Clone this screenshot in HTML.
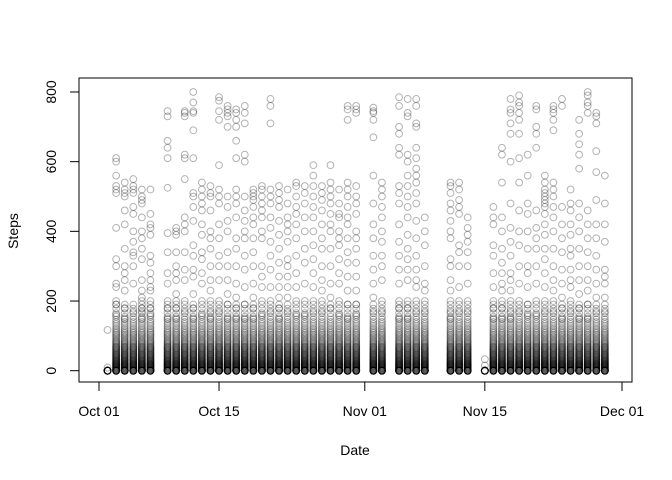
<!DOCTYPE html>
<html><head><meta charset="utf-8"><style>
html,body{margin:0;padding:0;background:#fff;}
svg{display:block;font-family:"Liberation Sans",Arial,sans-serif;}
</style></head><body>
<svg id="chart" width="672" height="480" viewBox="0 0 672 480" xmlns="http://www.w3.org/2000/svg">
<rect x="79" y="78" width="553" height="304" fill="none" stroke="#000" stroke-width="1"/>
<g id="points"></g>
<g id="axes"></g>
<text x="355" y="455" font-size="14" text-anchor="middle">Date</text>
<text x="0" y="0" font-size="14" text-anchor="middle" transform="translate(18,231) rotate(-90)">Steps</text>
</svg>
<script>
// day index = days since Oct 01
const dayIndex = [1,2,3,4,5,6,8,9,10,11,12,13,14,15,16,17,18,19,20,21,22,23,24,25,26,27,28,29,30,32,33,35,36,37,38,41,42,43,45,46,47,48,49,50,51,52,53,54,55,56,57,58,59];
const highValues = [
[117,9],
[610,600,560,530,520,510,410,320,300,250,240,200,190,160],
[540,520,510,500,460,420,350,300,280,260,230,180,150],
[550,530,520,510,470,450,400,370,340,330,300,250,170],
[520,500,490,480,440,400,380,350,320,260,230,210,200,180,170,150],
[520,450,420,410,390,330,310,280,260,240,230,200,180,160],
[745,730,660,640,610,525,395,340,280,250,200,180,150],
[410,400,390,340,300,280,260,220,200,180,150],
[745,740,730,620,610,550,440,420,400,340,290,260,200,170],
[800,770,745,740,690,610,510,500,470,430,360,330,290,270,220,180,150],
[540,520,500,480,460,420,390,340,320,280,250,200,160],
[530,510,500,460,400,380,350,300,260,230,200,170,150],
[785,775,745,720,590,520,500,480,420,380,330,300,260,200,170],
[760,750,740,730,700,500,470,430,400,340,300,260,220,190,150],
[750,740,720,700,660,610,520,500,480,440,380,350,300,250,210,180,150],
[760,740,710,620,600,500,460,430,400,380,330,290,240,190,150],
[520,510,500,490,470,440,420,380,340,300,250,210,180,150],
[530,520,500,480,460,440,400,380,300,270,240,200,160],
[780,760,710,520,500,480,440,410,370,330,290,240,200,170],
[530,510,490,470,430,390,350,310,270,240,210,180,150],
[520,480,440,420,400,370,320,300,270,240,210,170],
[540,530,500,470,450,420,380,330,280,240,200,160],
[530,510,480,440,400,350,310,250,200,160],
[590,560,530,500,470,440,400,360,320,280,240,200,170],
[530,510,490,460,420,380,350,300,260,230,200,170],
[590,540,520,500,480,450,420,400,350,300,250,210,180],
[520,480,450,440,400,380,360,320,280,250,200,160],
[760,750,720,540,520,500,470,440,420,380,340,310,270,230,190,150],
[760,750,740,530,500,480,450,400,380,350,310,270,230,190,160],
[755,745,740,720,670,560,480,420,380,330,290,250,210,170],
[540,520,500,470,440,400,370,330,300,260,200,170],
[785,760,700,680,640,620,530,510,480,420,370,330,290,250,200,180,150],
[780,740,730,620,600,560,530,500,470,440,390,350,320,290,260,200,180,150],
[780,760,710,700,640,610,580,560,540,510,480,430,380,330,290,260,240,200,170],
[440,400,360,300,250,230,200,170],
[540,530,510,480,460,430,400,380,320,300,260,230,200,170,150],
[540,520,490,470,450,360,340,300,240,200,170],
[440,410,390,370,340,300,250,200,170],
[33,15],
[470,440,420,360,330,280,240,200,180,150],
[640,620,540,440,400,350,310,280,250,230,200,180,150],
[780,750,740,710,680,600,480,410,370,330,280,260,230,200,170,150],
[790,770,760,740,720,680,610,540,460,400,360,300,250,200,170],
[620,560,480,450,400,350,300,280,240,190,160],
[760,750,700,680,640,460,410,380,350,300,250,200,160],
[560,540,520,510,500,490,480,470,450,420,390,350,320,280,240,200,170],
[760,750,740,720,690,540,520,500,470,440,400,350,300,260,230,200,170],
[780,760,470,420,380,340,290,250,210,180,150],
[520,480,460,420,390,350,330,290,260,240,200,170],
[720,680,650,620,580,480,440,400,350,300,260,220,180,150],
[800,790,770,760,740,460,420,380,340,300,260,230,190,150],
[740,730,710,630,570,490,420,380,330,290,250,210,170],
[560,480,420,370,290,270,250,210,170]
];
// typical low-interval values shared by active days
const lowValues = [0,0,0,0,0,0,0,0,0,0,0,0,2,3,4,5,6,7,8,9,10,11,12,13,14,15,16,17,18,19,20,21,22,24,25,26,28,29,30,32,33,35,36,38,40,41,43,45,46,48,50,52,54,56,58,60,62,64,66,68,70,73,76,79,82,85,88,92,96,100,104,108,112,117,122,128,134,140,147,155,165,178,190];
const quietDays = [1,45];
const quietValues = [0,0,0,0,0,0,0,0,0,0,0,0,0,0,0,0,0,0,0,0];
const xTickLabels = ["Oct 01","Oct 15","Nov 01","Nov 15","Dec 01"];
const xTickDays = [0,14,31,45,61];
const yTicks = [0,200,400,600,800];

const NS="http://www.w3.org/2000/svg";
function xScale(d){return 99+d*(523/61);}
function yScale(v){return 370.7-v*0.3484;}
const pts=document.getElementById('points');
function dot(d,v){
  const c=document.createElementNS(NS,'circle');
  c.setAttribute('cx',xScale(d).toFixed(2));
  c.setAttribute('cy',yScale(v).toFixed(2));
  c.setAttribute('r','3.4');
  c.setAttribute('fill','none');
  c.setAttribute('stroke','rgba(0,0,0,0.3)');
  c.setAttribute('stroke-width','1');
  
  
  pts.appendChild(c);
}
dayIndex.forEach((d,i)=>{
  const base = quietDays.includes(d)?quietValues:lowValues;
  base.forEach(v=>dot(d,v));
  highValues[i].forEach(v=>dot(d,v));
});
const ax=document.getElementById('axes');
function line(x1,y1,x2,y2,name){
  const l=document.createElementNS(NS,'line');
  l.setAttribute('x1',x1);l.setAttribute('y1',y1);l.setAttribute('x2',x2);l.setAttribute('y2',y2);
  l.setAttribute('stroke','#000');l.setAttribute('stroke-width','1');
  
  
  ax.appendChild(l);
}
function text(x,y,s,name,rot){
  const t=document.createElementNS(NS,'text');
  t.setAttribute('x',0);t.setAttribute('y',0);
  t.setAttribute('font-size','14');t.setAttribute('text-anchor','middle');
  t.setAttribute('transform','translate('+x+','+y+')'+(rot?' rotate(-90)':''));
  t.textContent=s;
  
  
  ax.appendChild(t);
}
line(xScale(xTickDays[0]),382,xScale(xTickDays[xTickDays.length-1]),382,'x-axis-line');
xTickDays.forEach((d,i)=>{
  line(xScale(d),382,xScale(d),391,'x-tick');
  text(xScale(d),416,xTickLabels[i],'x-tick-label',false);
});
line(79,yScale(yTicks[0]),79,yScale(yTicks[yTicks.length-1]),'y-axis-line');
yTicks.forEach(v=>{
  line(70,yScale(v),79,yScale(v),'y-tick');
  text(56,yScale(v),String(v),'y-tick-label',true);
});
</script>
</body></html>
